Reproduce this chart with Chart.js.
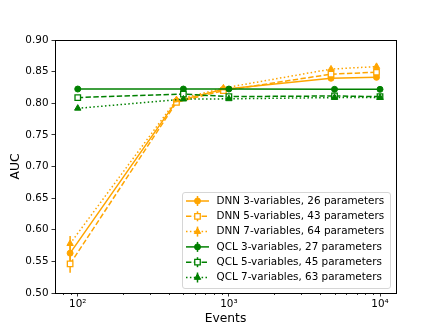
<!DOCTYPE html>
<html>
<head>
<meta charset="utf-8">
<script src="https://cdn.jsdelivr.net/npm/chart.js@4/dist/chart.umd.min.js"></script>
<style>
html,body{margin:0;padding:0;background:#fff;}
#wrap{width:440px;height:330px;}
</style>
</head>
<body>
<div id="wrap"><canvas id="c" width="440" height="330"></canvas></div>
<script>
// ---- data ----
const qclEvents = [100, 500, 1000, 5000, 10000];
const dnnEvents = [89, 450, 920, 4740, 9480];
const dnn3 = [0.563, 0.8035, 0.822, 0.8395, 0.841];
const dnn5 = [0.546, 0.8015, 0.820, 0.846, 0.849];
const dnn7 = [0.578, 0.8055, 0.824, 0.854, 0.858];
const qcl3 = [0.8225, 0.8225, 0.8225, 0.822, 0.822];
const qcl5 = [0.809, 0.8145, 0.8105, 0.8115, 0.8105];
const qcl7 = [0.792, 0.8065, 0.807, 0.809, 0.809];
const dnn3Err = [0.013, 0.004, 0.003, 0.003, 0.003];
const dnn5Err = [0.014, 0.004, 0.003, 0.003, 0.003];
const dnn7Err = [0.012, 0.004, 0.003, 0.003, 0.003];
const qcl3Err = [0.001, 0.001, 0.001, 0.001, 0.001];
const qcl5Err = [0.001, 0.001, 0.001, 0.001, 0.001];
const qcl7Err = [0.001, 0.001, 0.001, 0.001, 0.001];
const seriesLabels = [
  'DNN 3-variables, 26 parameters',
  'DNN 5-variables, 43 parameters',
  'DNN 7-variables, 64 parameters',
  'QCL 3-variables, 27 parameters',
  'QCL 5-variables, 45 parameters',
  'QCL 7-variables, 63 parameters'
];
const yTicks = [0.50, 0.55, 0.60, 0.65, 0.70, 0.75, 0.80, 0.85, 0.90];
const xTicks = [100, 1000, 10000];
const xTickLabels = ['10\u00B2', '10\u00B3', '10\u2074'];
const xLabel = 'Events';
const yLabel = 'AUC';

// ---- styles ----
const ORANGE = '#ffa500', GREEN = '#008000';
const DASHED = [5.4, 2.4], DOTTED = [1.5, 2.4];
const FONT = '"DejaVu Sans", "Liberation Sans", sans-serif';

function mk(label, xs, ys, errs, color, dash, style, order) {
  const isRect = style === 'rect';
  return {
    label: label,
    data: xs.map((x, i) => ({x: x, y: ys[i]})),
    errors: errs,
    showLine: true,
    borderColor: color,
    backgroundColor: color,
    borderWidth: 1.5,
    borderDash: dash,
    pointStyle: style,
    pointRadius: style === 'circle' ? 3 : (isRect ? 3.9 : 3.7),
    pointHoverRadius: style === 'circle' ? 3 : (isRect ? 3.9 : 3.7),
    pointBorderWidth: isRect ? 1.3 : 1,
    pointBackgroundColor: isRect ? '#ffffff' : color,
    pointBorderColor: color,
    tension: 0,
    order: order
  };
}

const datasets = [
  mk(seriesLabels[0], dnnEvents, dnn3, dnn3Err, ORANGE, [], 'circle', 6),
  mk(seriesLabels[1], dnnEvents, dnn5, dnn5Err, ORANGE, DASHED, 'rect', 5),
  mk(seriesLabels[2], dnnEvents, dnn7, dnn7Err, ORANGE, DOTTED, 'triangle', 4),
  mk(seriesLabels[3], qclEvents, qcl3, qcl3Err, GREEN, [], 'circle', 3),
  mk(seriesLabels[4], qclEvents, qcl5, qcl5Err, GREEN, DASHED, 'rect', 2),
  mk(seriesLabels[5], qclEvents, qcl7, qcl7Err, GREEN, DOTTED, 'triangle', 1)
];

const errorBarPlugin = {
  id: 'errbars',
  beforeDatasetDraw(chart, args) {
    const ds = chart.data.datasets[args.index];
    if (!ds.errors) return;
    const xs = chart.scales.x, ys = chart.scales.y, ctx = chart.ctx;
    const a = chart.chartArea;
    ctx.save();
    ctx.beginPath(); ctx.rect(a.left, a.top, a.right - a.left, a.bottom - a.top); ctx.clip();
    ctx.strokeStyle = ds.borderColor; ctx.lineWidth = 1.5; ctx.setLineDash([]);
    ds.data.forEach((p, i) => {
      const e = ds.errors[i];
      const px = xs.getPixelForValue(p.x);
      ctx.beginPath();
      ctx.moveTo(px, ys.getPixelForValue(p.y - e));
      ctx.lineTo(px, ys.getPixelForValue(p.y + e));
      ctx.stroke();
    });
    ctx.restore();
  }
};

const framePlugin = {
  id: 'frame',
  afterDraw(chart) {
    const ctx = chart.ctx, a = chart.chartArea, xs = chart.scales.x;
    ctx.save();
    // minor ticks on log axis
    ctx.strokeStyle = '#000'; ctx.lineWidth = 0.8; ctx.setLineDash([]);
    for (let k = 1; k <= 4; k++) {
      for (let m = 2; m <= 9; m++) {
        const v = m * Math.pow(10, k);
        if (v < xs.min || v > xs.max) continue;
        const px = Math.round(xs.getPixelForValue(v)) + 0.5;
        ctx.beginPath(); ctx.moveTo(px, a.bottom); ctx.lineTo(px, a.bottom + 2); ctx.stroke();
      }
    }
    // frame
    ctx.lineWidth = 1;
    ctx.strokeStyle = '#000';
    ctx.strokeRect(Math.round(a.left) + 0.5, Math.round(a.top) + 0.5,
                   Math.round(a.right - a.left), Math.round(a.bottom - a.top));
    // legend
    const bx = 182.5, by = 192.5, bw = 208, bh = 96;
    ctx.beginPath();
    ctx.roundRect(bx, by, bw, bh, 2.5);
    ctx.fillStyle = 'rgba(255,255,255,0.8)';
    ctx.fill();
    ctx.strokeStyle = '#d6d6d6';
    ctx.lineWidth = 1;
    ctx.stroke();
    ctx.font = '10.4px ' + FONT;
    ctx.textBaseline = 'middle';
    ctx.textAlign = 'left';
    chart.data.datasets.forEach((ds, i) => {
      const y = 201 + i * 15.3;
      const x0 = 186, x1 = 209, xm = 197.5;
      ctx.strokeStyle = ds.borderColor; ctx.lineWidth = 1.5;
      ctx.setLineDash(ds.borderDash || []);
      ctx.beginPath(); ctx.moveTo(x0, y); ctx.lineTo(x1, y); ctx.stroke();
      ctx.setLineDash([]);
      ctx.beginPath(); ctx.moveTo(xm, y - 5); ctx.lineTo(xm, y + 5); ctx.stroke();
      ctx.fillStyle = ds.pointBackgroundColor;
      ctx.strokeStyle = ds.pointBorderColor;
      ctx.lineWidth = ds.pointBorderWidth;
      Chart.helpers.drawPoint(ctx, {pointStyle: ds.pointStyle, radius: ds.pointRadius,
        borderWidth: ds.pointBorderWidth, rotation: 0}, xm, y);
      ctx.fillStyle = '#000';
      ctx.fillText(ds.label, 216.5, y);
    });
    ctx.restore();
  }
};

new Chart(document.getElementById('c'), {
  type: 'scatter',
  data: { datasets: datasets },
  plugins: [errorBarPlugin, framePlugin],
  options: {
    responsive: false,
    animation: false,
    events: [],
    layout: { padding: { left: 0, right: 44, top: 40, bottom: 0 } },
    plugins: { legend: { display: false }, tooltip: { enabled: false } },
    scales: {
      x: {
        type: 'logarithmic',
        min: 70.7,
        max: 12757,
        afterFit(s) { s.height = 37; },
        afterBuildTicks(s) { s.ticks = xTicks.map(v => ({value: v, major: true})); },
        grid: { drawOnChartArea: false, tickLength: 3.5, color: '#000', tickWidth: 0.8 },
        border: { display: false },
        ticks: {
          autoSkip: false, maxRotation: 0, padding: 2,
          color: '#000', font: { family: FONT, size: 10.4 },
          callback(v) { const i = xTicks.indexOf(v); return i >= 0 ? xTickLabels[i] : ''; }
        },
        title: { display: true, text: xLabel, color: '#000',
                 font: { family: FONT, size: 12.3 }, padding: { top: 0, bottom: 4 } }
      },
      y: {
        min: 0.5,
        max: 0.9,
        afterFit(s) { s.width = 55; },
        afterBuildTicks(s) { s.ticks = yTicks.map(v => ({value: v})); },
        grid: { drawOnChartArea: false, tickLength: 3.5, color: '#000', tickWidth: 0.8 },
        border: { display: false },
        ticks: {
          autoSkip: false, padding: 3, color: '#000',
          font: { family: FONT, size: 10.4 },
          callback(v) { return Number(v).toFixed(2); }
        },
        title: { display: true, text: yLabel, color: '#000',
                 font: { family: FONT, size: 12.3 }, padding: { top: 8, bottom: 0 } }
      }
    }
  }
});
</script>
</body>
</html>
